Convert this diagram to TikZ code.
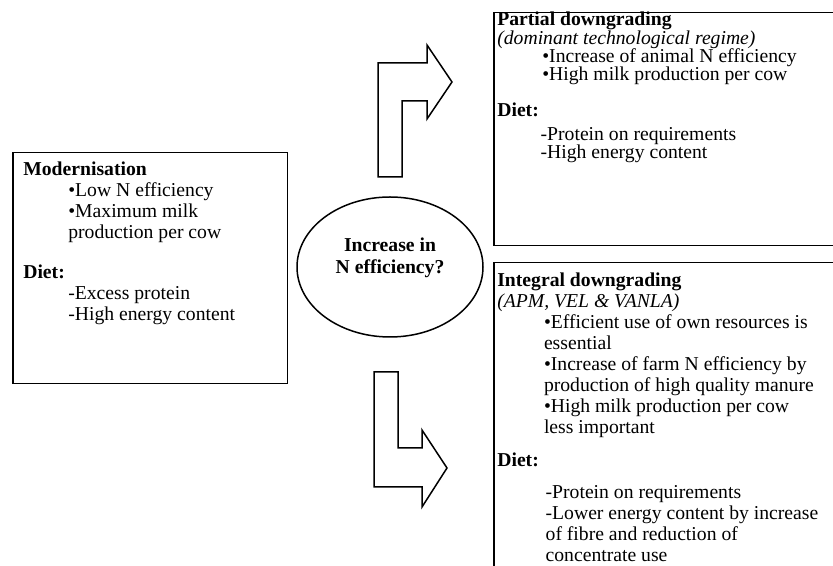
\documentclass[tikz,border=0pt]{standalone}
\usepackage{fontspec}
\setmainfont{Liberation Serif}
\usetikzlibrary{shapes.geometric}
\newcommand\boxfont{\fontsize{11.8}{12.6}\selectfont\setlength{\lineskiplimit}{-8pt}}
\newcommand\partfont{\fontsize{11.8}{10.9}\selectfont\setlength{\lineskiplimit}{-8pt}}
\begin{document}
\begin{tikzpicture}[x=0.6pt,y=-0.6pt]
    \tikzset{
        box/.style={draw, line width=0.9pt, anchor=north west, inner sep=0pt},
        txt/.style={anchor=north west, align=left, inner sep=0pt, font=\boxfont},
        question/.style={draw, ellipse, line width=0.9pt, minimum width=111.6pt, minimum height=84pt},
        blockarrow/.style={draw, line width=0.9pt, line join=miter}
    }
    \useasboundingbox (0,0) rectangle (833,566);
    \clip (0,0) rectangle (833,566);

    \draw node[box, minimum width=165pt, minimum height=138.6pt] (mod) at (12,152) {};
    \draw node[box, minimum width=240pt, minimum height=139.8pt] (part) at (493,12) {};
    \draw node[box, minimum width=240pt, minimum height=192pt] (integ) at (493,262) {};
    \draw node[question] (q) at (390,267) {};

    \node[txt] (modtxt) at (23,162) {\textbf{Modernisation}\\
        \hspace*{27pt}\textbullet Low N efficiency\\
        \hspace*{27pt}\textbullet Maximum milk\\
        \hspace*{27pt}production per cow\\[11pt]
        \textbf{Diet:}\\
        \hspace*{27pt}-Excess protein\\
        \hspace*{27pt}-High energy content};
    \node[txt, font=\partfont] (parttxt) at (497,12) {\textbf{Partial downgrading}\\
        \textit{(dominant technological regime)}\\
        \hspace*{27pt}\textbullet Increase of animal N efficiency\\
        \hspace*{27pt}\textbullet High milk production per cow\\[10.7pt]
        \textbf{Diet:}\\[3.5pt]
        \hspace*{26pt}-Protein on requirements\\
        \hspace*{26pt}-High energy content};
    \node[txt] (integtxt) at (497,273) {\textbf{Integral downgrading}\\
        \textit{(APM, VEL \& VANLA)}\\
        \hspace*{28pt}\textbullet Efficient use of own resources is\\
        \hspace*{28pt}essential\\
        \hspace*{28pt}\textbullet Increase of farm N efficiency by\\
        \hspace*{28pt}production of high quality manure\\
        \hspace*{28pt}\textbullet High milk production per cow\\
        \hspace*{28pt}less important\\[7pt]
        \textbf{Diet:}\\[6.6pt]
        \hspace*{29pt}-Protein on requirements\\
        \hspace*{29pt}-Lower energy content by increase\\
        \hspace*{29pt}of fibre and reduction of\\
        \hspace*{29pt}concentrate use};
    \node[align=center, inner sep=0pt, font=\fontsize{11.8}{13.2}\selectfont\bfseries] (qtxt) at (390,258) {Increase in\\N efficiency?};

    \draw[blockarrow] (378,177) -- (378,63) -- (427,63) -- (427,45) -- (452,82)
        -- (427,119) -- (427,101) -- (402,101) -- (402,177) -- cycle;
    \draw[blockarrow] (374,372) -- (398,372) -- (398,448) -- (422,448) -- (422,430)
        -- (447,468) -- (422,507) -- (422,487) -- (374,487) -- cycle;
\end{tikzpicture}
\end{document}
